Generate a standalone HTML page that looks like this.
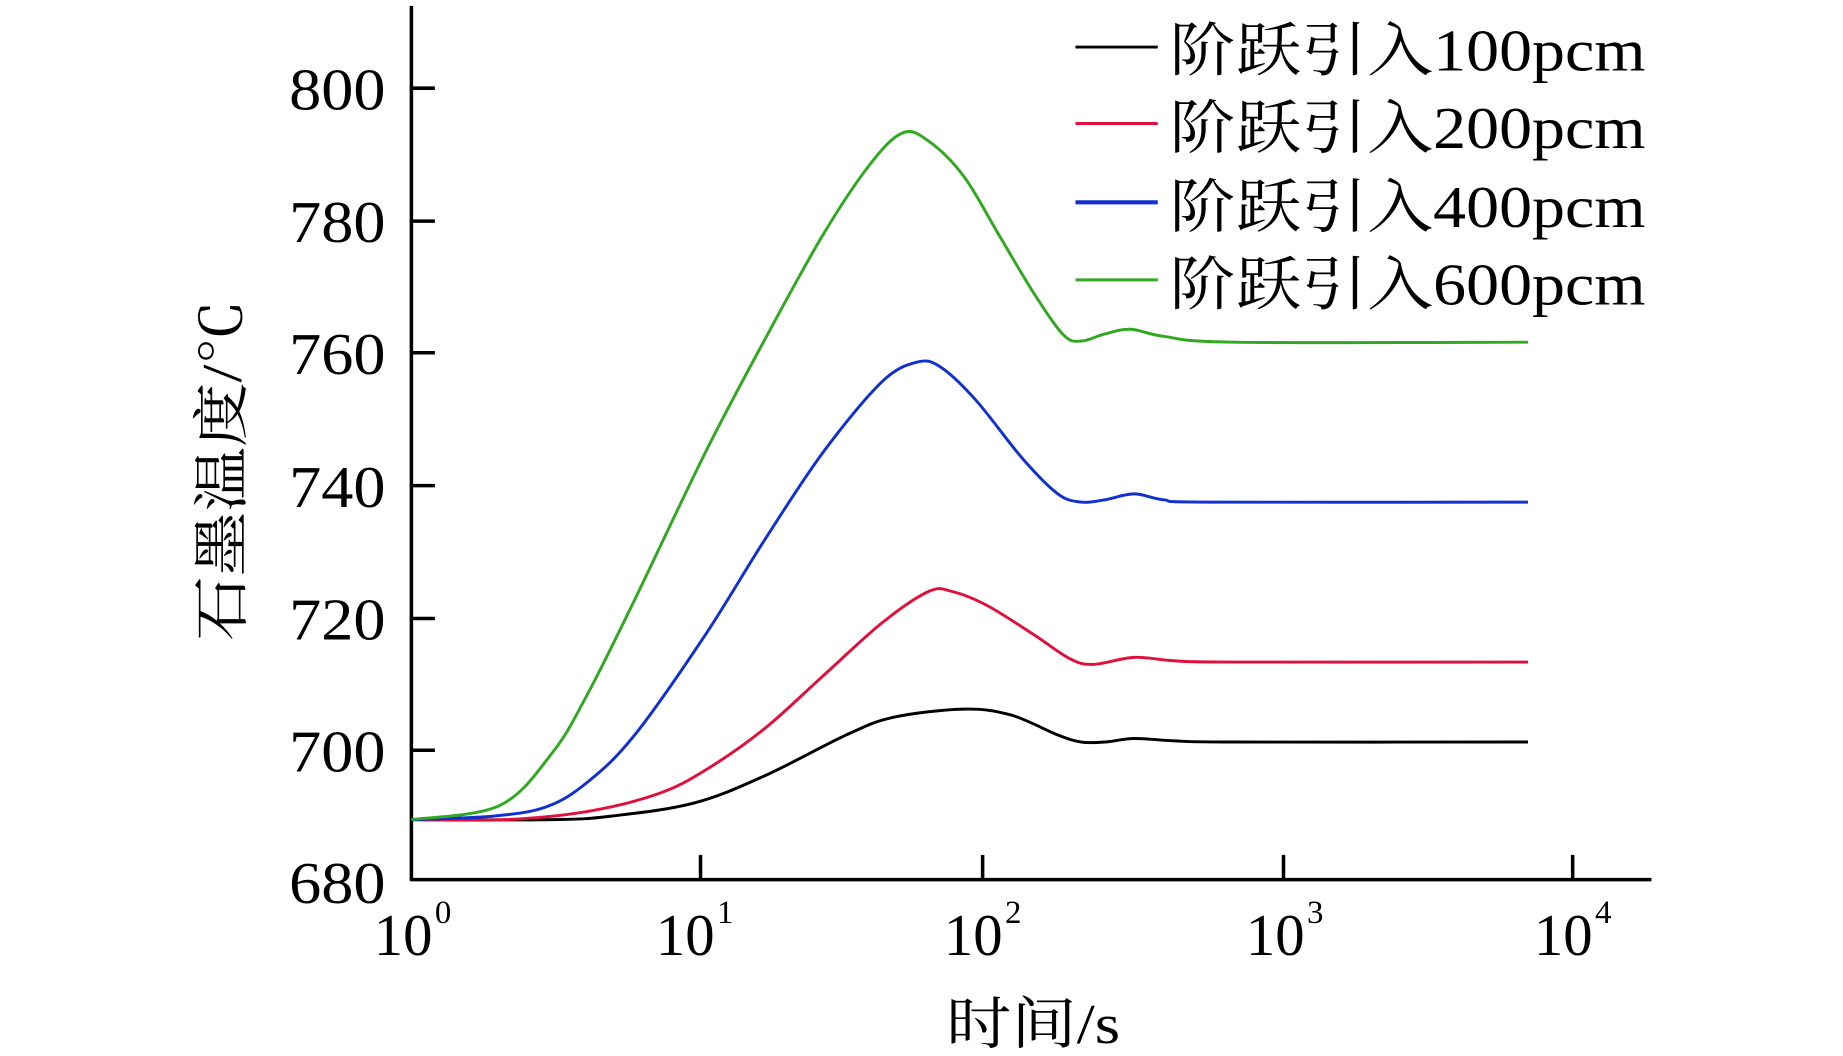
<!DOCTYPE html>
<html><head><meta charset="utf-8"><style>html,body{margin:0;padding:0;background:#fff}svg{display:block}</style></head>
<body>
<svg id="s" width="1843" height="1056" viewBox="0 0 1568 898" preserveAspectRatio="none" xmlns="http://www.w3.org/2000/svg" font-family="'Liberation Serif','Noto Serif CJK SC',serif">
<rect width="1568" height="898" fill="#fff"/>
<g stroke="#000" stroke-width="3" fill="none">
<line x1="350" y1="5" x2="350" y2="749"/>
<line x1="349" y1="748" x2="1405" y2="748"/>
<line x1="350" y1="75" x2="370" y2="75"/>
<line x1="350" y1="188" x2="370" y2="188"/>
<line x1="350" y1="300" x2="370" y2="300"/>
<line x1="350" y1="413" x2="370" y2="413"/>
<line x1="350" y1="526" x2="370" y2="526"/>
<line x1="350" y1="638" x2="370" y2="638"/>
<line x1="596" y1="748" x2="596" y2="727"/>
<line x1="836" y1="748" x2="836" y2="727"/>
<line x1="1092" y1="748" x2="1092" y2="727"/>
<line x1="1338" y1="748" x2="1338" y2="727"/>
</g>
<g font-size="50" text-anchor="end" fill="#000">
<text x="328" y="93" textLength="82" lengthAdjust="spacingAndGlyphs">800</text>
<text x="328" y="206" textLength="82" lengthAdjust="spacingAndGlyphs">780</text>
<text x="328" y="318" textLength="82" lengthAdjust="spacingAndGlyphs">760</text>
<text x="328" y="431" textLength="82" lengthAdjust="spacingAndGlyphs">740</text>
<text x="328" y="544" textLength="82" lengthAdjust="spacingAndGlyphs">720</text>
<text x="328" y="656" textLength="82" lengthAdjust="spacingAndGlyphs">700</text>
<text x="328" y="768" textLength="82" lengthAdjust="spacingAndGlyphs">680</text>
</g>
<g font-size="50" fill="#000">
<text x="318" y="812" textLength="50" lengthAdjust="spacingAndGlyphs">10</text><text x="370" y="785" font-size="28">0</text>
<text x="558" y="812" textLength="50" lengthAdjust="spacingAndGlyphs">10</text><text x="610" y="785" font-size="28">1</text>
<text x="803" y="812" textLength="50" lengthAdjust="spacingAndGlyphs">10</text><text x="855" y="785" font-size="28">2</text>
<text x="1060" y="812" textLength="50" lengthAdjust="spacingAndGlyphs">10</text><text x="1112" y="785" font-size="28">3</text>
<text x="1305" y="812" textLength="50" lengthAdjust="spacingAndGlyphs">10</text><text x="1357" y="785" font-size="28">4</text>
<text x="805" y="887" font-size="48" textLength="148" lengthAdjust="spacingAndGlyphs">时间/s</text>
<text transform="translate(205,545) rotate(-90)" font-size="48" textLength="290" lengthAdjust="spacingAndGlyphs">石墨温度/℃</text>
</g>
<g stroke-width="2.5">
<line x1="915" y1="40" x2="985" y2="40" stroke="#000"/>
<line x1="915" y1="105" x2="985" y2="105" stroke="#e0103c"/>
<line x1="915" y1="172" x2="985" y2="172" stroke="#1030d0" stroke-width="3.5"/>
<line x1="915" y1="238" x2="985" y2="238" stroke="#30a820"/>
</g>
<g font-size="50" fill="#000">
<text x="995" y="60" textLength="405" lengthAdjust="spacingAndGlyphs">阶跃引入100pcm</text>
<text x="995" y="126" textLength="405" lengthAdjust="spacingAndGlyphs">阶跃引入200pcm</text>
<text x="995" y="193" textLength="405" lengthAdjust="spacingAndGlyphs">阶跃引入400pcm</text>
<text x="995" y="259" textLength="405" lengthAdjust="spacingAndGlyphs">阶跃引入600pcm</text>
</g>
<g id="curves" fill="none" stroke-width="2.5" stroke-linejoin="round"></g>
</svg>
<script>
var data=[
["#000",[[350,697],[470,697],[520,694],[590,683],[650,660],[720,625],[760,610],[820,603],[860,608],[900,625],[920,631],[940,631],[965,628],[1000,630],[1050,631],[1300,631]]],
["#e0103c",[[350,697],[430,697],[500,690],[560,675],[600,655],[650,620],[700,575],[750,530],[790,503],[810,503],[840,515],[880,540],[910,560],[930,565],[965,559],[1000,562],[1050,563],[1300,563]]],
["#1030d0",[[350,697],[420,694],[465,686],[500,665],[540,625],[600,540],[650,460],[700,385],[750,325],[780,308],[800,312],[830,340],[870,390],[900,420],[920,427],[940,425],[965,420],[990,425],[1030,427],[1300,427]]],
["#30a820",[[350,697],[425,685],[470,640],[500,590],[540,510],[600,385],[650,290],[700,200],[740,140],[768,113],[790,120],[820,150],[850,200],[880,250],[905,285],[920,290],[940,284],[962,280],[990,286],[1050,291],[1300,291]]]
];
var g=document.getElementById('curves');
data.forEach(function(d){var p=d[1],s='M'+p[0][0]+','+p[0][1];
for(var i=0;i<p.length-1;i++){var p0=p[i-1]||p[i],p1=p[i],p2=p[i+1],p3=p[i+2]||p2;
s+=' C'+(p1[0]+(p2[0]-p0[0])/6)+','+(p1[1]+(p2[1]-p0[1])/6)+' '+(p2[0]-(p3[0]-p1[0])/6)+','+(p2[1]-(p3[1]-p1[1])/6)+' '+p2[0]+','+p2[1];}
var e=document.createElementNS('http://www.w3.org/2000/svg','path');e.setAttribute('d',s);e.setAttribute('stroke',d[0]);g.appendChild(e);});
</script>
</body></html>
